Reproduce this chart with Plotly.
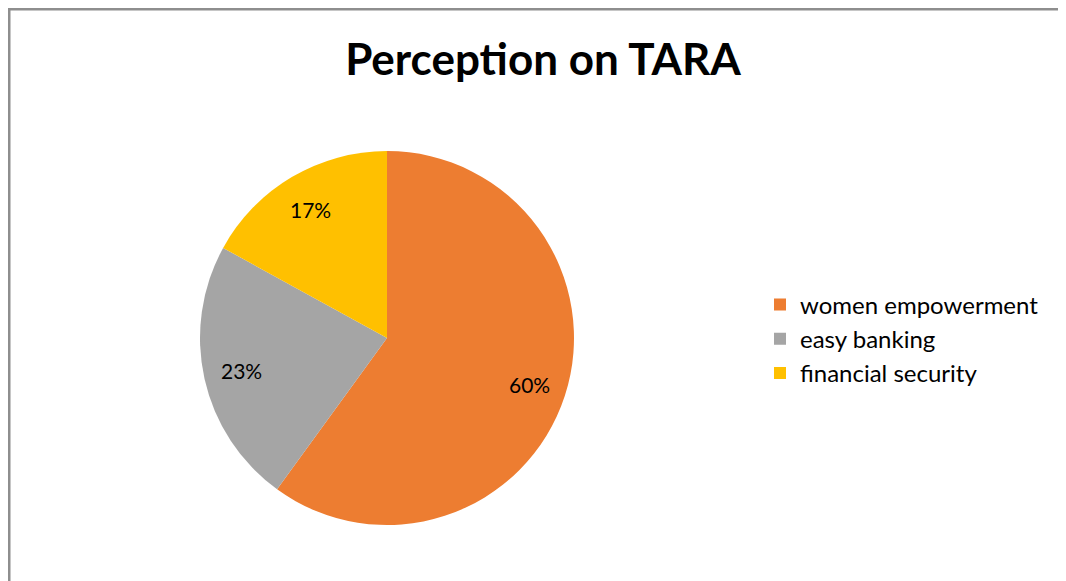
import math
import plotly.graph_objects as go

labels = ["women empowerment", "easy banking", "financial security"]
values = [60, 23, 17]
colors = ["#ED7D31", "#A5A5A5", "#FFC000"]
title_text = "Perception on TARA"

# page body has an 8px margin; the figure fills the rest of the window
W, H = 1058, 573
FONT = "Lato"

# pie geometry (figure pixels)
CX, CY, R = 379, 330, 187
LABEL_FRAC = 0.8

fig = go.Figure(go.Pie(
    labels=labels,
    values=values,
    sort=False,
    direction="clockwise",
    rotation=0,
    marker=dict(colors=colors, line=dict(color="white", width=0)),
    textinfo="none",
    domain=dict(x=[(CX - R) / W, (CX + R) / W], y=[1 - (CY + R) / H, 1 - (CY - R) / H]),
    hoverinfo="label+percent",
))

# percentage labels placed at the middle angle of each slice
total = sum(values)
annotations = []
start = 0.0
for v in values:
    mid = (start + v / 2) / total * 2 * math.pi
    start += v
    px = CX + LABEL_FRAC * R * math.sin(mid)
    py = CY - LABEL_FRAC * R * math.cos(mid)
    annotations.append(dict(
        x=px / W, y=1 - py / H, xref="paper", yref="paper",
        text=f"{round(v / total * 100)}%", showarrow=False,
        xanchor="center", yanchor="middle",
        font=dict(family=FONT, size=21, color="#000000"),
    ))

fig.update_layout(
    width=W, height=H,
    margin=dict(l=0, r=0, t=0, b=0),
    paper_bgcolor="white",
    title=dict(text="<b>" + title_text + "</b>", x=535 / W, xanchor="center",
               y=1 - 52 / H, yanchor="middle",
               font=dict(family=FONT, size=44, color="#000000")),
    legend=dict(x=752 / W, xanchor="left", y=1 - 331 / H, yanchor="middle",
                font=dict(family=FONT, size=24, color="#000000"),
                bgcolor="rgba(0,0,0,0)"),
    annotations=annotations,
    shapes=[
        dict(type="line", xref="paper", yref="paper",
             x0=1.25 / W, x1=1.25 / W, y0=0, y1=1,
             line=dict(color="#8e8e8e", width=2.5)),
        dict(type="line", xref="paper", yref="paper",
             x0=0, x1=1, y0=1 - 1.25 / H, y1=1 - 1.25 / H,
             line=dict(color="#8e8e8e", width=2.5)),
    ],
)

fig.write_html("out.html")
